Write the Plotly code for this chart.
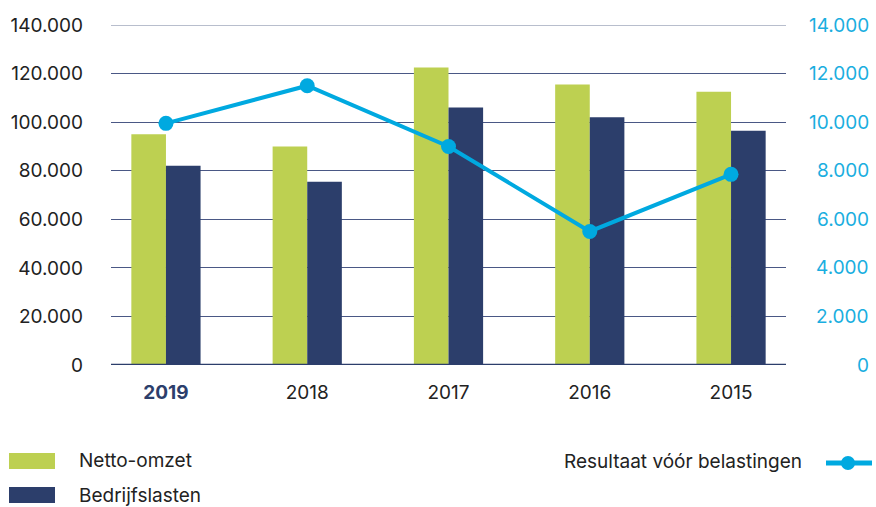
import plotly.graph_objects as go

years = ["2019", "2018", "2017", "2016", "2015"]
netto_omzet = [95000, 90000, 122500, 115500, 112500]
bedrijfslasten = [82000, 75500, 106000, 102000, 96500]
resultaat = [9950, 11500, 9000, 5500, 7850]
left_ticks = [0, 20000, 40000, 60000, 80000, 100000, 120000, 140000]
right_ticks = [0, 2000, 4000, 6000, 8000, 10000, 12000, 14000]
year_labels = ["<b><span style='color:#2c3e6b'>2019</span></b>", "2018", "2017", "2016", "2015"]

GREEN = "#bdd051"
NAVY = "#2c3e6b"
BLUE = "#00a9e0"
TICKBLUE = "#1aaee0"
FONT = "Inter"
FS = 19

W, H = 876, 507
ML, MR, MT, MB = 111, 90, 25, 142

x = list(range(len(years)))

fig = go.Figure()
fig.add_trace(go.Bar(x=x, y=netto_omzet, name="Netto-omzet", marker=dict(color=GREEN, line=dict(width=0))))
fig.add_trace(go.Bar(x=x, y=bedrijfslasten, name="Bedrijfslasten", marker=dict(color=NAVY, line=dict(width=0))))
fig.add_trace(go.Scatter(x=x, y=resultaat, name="Resultaat vóór belastingen", yaxis="y2",
                         mode="lines+markers", line=dict(color=BLUE, width=4),
                         marker=dict(color=BLUE, size=15)))

fig.update_layout(
    width=W, height=H, autosize=False,
    margin=dict(l=ML, r=MR, t=MT, b=MB),
    paper_bgcolor="white", plot_bgcolor="white",
    separators=",.",
    barmode="group", bargap=0.51, bargroupgap=0,
    showlegend=False,
    font=dict(family=FONT, size=FS, color="#222222"),
    xaxis=dict(range=[-0.389, 4.389], tickmode="array", tickvals=x, ticktext=year_labels,
               showgrid=False, zeroline=False, showline=False, ticks="", automargin=False,
               tickfont=dict(size=FS, color="#222222"), ticklabelstandoff=14),
    yaxis=dict(range=[0, 140000], tickmode="array", tickvals=left_ticks, tickformat=",.0f",
               showgrid=True, gridcolor="#4a5885", gridwidth=1, zeroline=False, automargin=False,
               showline=False, ticks="", tickfont=dict(size=FS, color="#222222"),
               ticklabelstandoff=27),
    yaxis2=dict(range=[0, 14000], overlaying="y", side="right", tickmode="array",
                tickvals=right_ticks, showticklabels=False, showgrid=False, zeroline=False,
                showline=False, ticks="", automargin=False),
)

# lighter top gridline and baseline
fig.add_shape(type="line", xref="paper", yref="y", x0=0, x1=1, y0=140000, y1=140000,
              line=dict(color="#a0a8bc", width=1.5))
fig.add_shape(type="line", xref="paper", yref="y", x0=0, x1=1, y0=0, y1=0,
              line=dict(color=NAVY, width=2.5))

def px_x(p):
    return (p - ML) / (W - ML - MR)

def px_y(p):
    return (H - MB - p) / (H - MT - MB)

# right axis tick labels (right-aligned, as in the reference)
for v in right_ticks:
    fig.add_annotation(xref="paper", yref="y2", x=px_x(871), y=v, text=f"{v:,}".replace(",", "."),
                       showarrow=False, xanchor="right", yanchor="middle",
                       font=dict(size=FS, color=TICKBLUE))

# custom legend
fig.add_shape(type="rect", xref="paper", yref="paper", x0=px_x(9), x1=px_x(55), y0=px_y(469), y1=px_y(453),
              fillcolor=GREEN, line=dict(width=0))
fig.add_shape(type="rect", xref="paper", yref="paper", x0=px_x(9), x1=px_x(55), y0=px_y(503), y1=px_y(487),
              fillcolor=NAVY, line=dict(width=0))
fig.add_annotation(xref="paper", yref="paper", x=px_x(77), y=px_y(461), text="Netto-omzet",
                   showarrow=False, xanchor="left", yanchor="middle", font=dict(size=FS, color="#222222"))
fig.add_annotation(xref="paper", yref="paper", x=px_x(77), y=px_y(495), text="Bedrijfslasten",
                   showarrow=False, xanchor="left", yanchor="middle", font=dict(size=FS, color="#222222"))
fig.add_annotation(xref="paper", yref="paper", x=px_x(804), y=px_y(462), text="Resultaat vóór belastingen",
                   showarrow=False, xanchor="right", yanchor="middle", font=dict(size=FS, color="#222222"))
fig.add_shape(type="line", xref="paper", yref="paper", x0=px_x(826), x1=px_x(872), y0=px_y(463), y1=px_y(463),
              line=dict(color=BLUE, width=5))
fig.add_shape(type="circle", xref="paper", yref="paper", x0=px_x(841), x1=px_x(855), y0=px_y(470), y1=px_y(456),
              fillcolor=BLUE, line=dict(width=0))

fig.write_html("out.html", config={"responsive": False, "displayModeBar": False},
               post_script="document.body.style.margin='0';document.body.style.overflow='hidden';")
